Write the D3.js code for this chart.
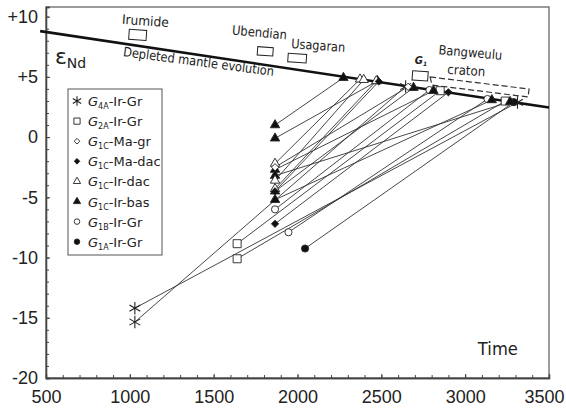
<!DOCTYPE html>
<html>
<head>
<meta charset="utf-8">
<script src="https://cdn.jsdelivr.net/npm/d3@7"></script>
<style>
body { margin: 0; background: #fff; }
svg text { font-family: "Liberation Sans", Arial, sans-serif; fill: #222; }
svg text.note { font-family: "DejaVu Sans", sans-serif; }
</style>
</head>
<body>
<svg id="chart" width="566" height="410"></svg>
<script>
// groups (legend order)
var groupSub = ["4A", "2A", "1C", "1C", "1C", "1C", "1B", "1A"];
var groupRest = ["-Ir-Gr", "-Ir-Gr", "-Ma-gr", "-Ma-dac", "-Ir-dac", "-Ir-bas", "-Ir-Gr", "-Ir-Gr"];

// samples: crystallisation point -> model age on the depleted mantle curve
var sampleGroup = [0, 0, 1, 1, 6, 6, 7, 5, 5, 5, 5, 5, 5, 4, 4, 4, 3, 3, 2];
var crystAge = [1030, 1030, 1640, 1640, 1866, 1946, 2045, 1866, 1866, 1866, 1866, 1866, 1866, 1866, 1866, 1866, 1866, 1866, 1866];
var crystEps = [-14.2, -15.35, -8.85, -10.1, -6.0, -7.9, -9.25, 1.0, -0.1, -5.2, -2.7, -4.5, -3.2, -2.2, -3.6, -4.3, -4.5, -7.2, -2.5];
var tdmAge = [3312, 2645, 2851, 3239, 2787, 3133, 3290, 2274, 2477, 3159, 2811, 2692, 3268, 2373, 2395, 2470, 2485, 2900, 2660];
var tdmEps = [2.88, 4.2, 3.85, 2.99, 3.91, 3.16, 2.9, 4.93, 4.66, 3.08, 3.85, 4.1, 2.93, 4.8, 4.76, 4.66, 4.62, 3.72, 4.18];

// depleted mantle evolution line
var dmAge = [465, 3500];
var dmEps = [8.8, 2.45];

// terrane boxes
var boxName = ["Irumide", "Ubendian", "Usagaran", "G"];
var boxAge0 = [997, 1763, 1945, 2687];
var boxAge1 = [1101, 1856, 2055, 2780];
var boxEps0 = [8.95, 7.51, 6.96, 5.51];
var boxEps1 = [8.12, 6.82, 6.26, 4.74];

// Bangweulu craton range (dashed)
var cratonAge = [2791, 3381, 3375, 2802];
var cratonEps = [4.99, 3.99, 3.33, 4.32];

var xTicks = [500, 1000, 1500, 2000, 2500, 3000, 3500];
var yTicks = [-20, -15, -10, -5, 0, 5, 10];
var yTickLabels = ["-20", "-15", "-10", "-5", "0", "+5", "+10"];

var svg = d3.select("#chart");

var x = d3.scaleLinear().domain([500, 3500]).range([46, 549]);
var y = d3.scaleLinear().domain([-20, 10.8]).range([378, 7]);

var symTypes = [d3.symbolAsterisk, d3.symbolSquare, d3.symbolDiamond2, d3.symbolDiamond2,
                d3.symbolTriangle, d3.symbolTriangle, d3.symbolCircle, d3.symbolCircle];
var symFilled = [false, false, false, true, false, true, false, true];
var symSize = [110, 64, 34, 34, 38, 38, 40, 40];

function drawSymbol(sel, g, scale) {
  sel.attr("d", d3.symbol().type(symTypes[g]).size(symSize[g] * scale)())
    .style("fill", g == 0 ? "none" : (symFilled[g] ? "#111" : "#fff"))
    .style("stroke", "#222")
    .style("stroke-width", g == 0 ? 1.1 : 0.9);
}

// frame
svg.append("rect")
  .attr("x", x(500)).attr("y", y(10.8))
  .attr("width", x(3500) - x(500)).attr("height", y(-20) - y(10.8))
  .style("fill", "none").style("stroke", "#666").style("stroke-width", 1.3);

// axes
var xMinor = svg.append("g").attr("transform", "translate(0," + y(-20) + ")")
  .call(d3.axisBottom(x).tickValues(d3.range(500, 3501, 100)).tickSize(-3).tickFormat(""));
var xAxis = svg.append("g").attr("transform", "translate(0," + y(-20) + ")")
  .call(d3.axisBottom(x).tickValues(xTicks).tickSize(-4).tickPadding(12).tickFormat(d3.format("d")));
var yMinor = svg.append("g").attr("transform", "translate(" + x(500) + ",0)")
  .call(d3.axisLeft(y).tickValues(d3.range(-20, 11, 1)).tickSize(-3).tickFormat(""));
var yAxis = svg.append("g").attr("transform", "translate(" + x(500) + ",0)")
  .call(d3.axisLeft(y).tickValues(yTicks).tickSize(-4).tickPadding(8)
    .tickFormat(function(d, i) { return yTickLabels[i]; }));

[xMinor, xAxis, yMinor, yAxis].forEach(function(a) {
  a.select(".domain").attr("stroke", "#444").attr("stroke-width", 1.3);
  a.selectAll(".tick line").attr("stroke", "#444");
  a.selectAll(".tick text").style("font-size", "18px").attr("fill", "#222")
    .style("font-family", "'Liberation Sans', Arial, sans-serif");
});
// keep the last label inside the page
xAxis.selectAll(".tick text").filter(function(d) { return d == 3500; }).attr("dx", -5);

// tie lines
var idx = d3.range(crystAge.length);
svg.append("g").selectAll("line").data(idx).enter().append("line")
  .attr("x1", function(i) { return x(crystAge[i]); })
  .attr("y1", function(i) { return y(crystEps[i]); })
  .attr("x2", function(i) { return x(tdmAge[i]); })
  .attr("y2", function(i) { return y(tdmEps[i]); })
  .style("stroke", "#333").style("stroke-width", 0.9);

// depleted mantle line
svg.append("path")
  .datum(d3.range(dmAge.length))
  .attr("d", d3.line().x(function(i) { return x(dmAge[i]); }).y(function(i) { return y(dmEps[i]); }))
  .style("fill", "none").style("stroke", "#111").style("stroke-width", 2.6);

// terrane boxes + craton outline
svg.append("g").selectAll("rect").data(d3.range(boxName.length)).enter().append("rect")
  .attr("x", function(i) { return x(boxAge0[i]); })
  .attr("y", function(i) { return y(boxEps0[i]); })
  .attr("width", function(i) { return x(boxAge1[i]) - x(boxAge0[i]); })
  .attr("height", function(i) { return y(boxEps1[i]) - y(boxEps0[i]); })
  .attr("transform", function(i) {
    return "rotate(4," + x(boxAge0[i]) + "," + y(boxEps0[i]) + ")";
  })
  .style("fill", "#fff").style("stroke", "#222").style("stroke-width", 1);

svg.append("path")
  .datum(d3.range(cratonAge.length))
  .attr("d", d3.line().x(function(i) { return x(cratonAge[i]); }).y(function(i) { return y(cratonEps[i]); }).curve(d3.curveLinearClosed))
  .style("fill", "none").style("stroke", "#333").style("stroke-width", 1.2)
  .style("stroke-dasharray", "6,3");

// markers: model ages then crystallisation points
svg.append("g").selectAll("path").data(idx).enter().append("path")
  .attr("transform", function(i) { return "translate(" + x(tdmAge[i]) + "," + y(tdmEps[i]) + ")"; })
  .each(function(i) { drawSymbol(d3.select(this), sampleGroup[i], 1); });
svg.append("g").selectAll("path").data(idx).enter().append("path")
  .attr("transform", function(i) { return "translate(" + x(crystAge[i]) + "," + y(crystEps[i]) + ")"; })
  .each(function(i) { drawSymbol(d3.select(this), sampleGroup[i], 1); });

// annotations
function note(txt, age, eps, size, rot, len) {
  var t = svg.append("text").attr("class", "note")
    .attr("x", x(age)).attr("y", y(eps))
    .attr("text-anchor", "middle")
    .style("font-size", size + "px")
    .attr("transform", "rotate(" + rot + "," + x(age) + "," + y(eps) + ")")
    .text(txt);
  if (len) t.attr("textLength", len).attr("lengthAdjust", "spacingAndGlyphs");
  return t;
}
note("Irumide", 1091, 9.27, 13, 4, 47);
note("Ubendian", 1771, 8.31, 13, 5, 55);
note("Usagaran", 2122, 7.23, 13, 4, 54);
note("Depleted mantle evolution", 1407, 5.9, 13, 7.5, 152);
note("Bangweulu", 3029, 6.65, 13, 5, 64);
note("craton", 3005, 5.15, 13, 4, 38);
note("Time", 3195, -18.1, 17, 0, 40);

var gl = svg.append("text").attr("class", "note")
  .attr("x", x(2700)).attr("y", y(6.05))
  .style("font-size", "10px").style("font-weight", "bold").style("font-style", "italic");
gl.append("tspan").text("G");
gl.append("tspan").attr("dy", 2).style("font-size", "6px").text("1");

var en = svg.append("text").attr("class", "note")
  .attr("x", x(553)).attr("y", y(6.1));
en.append("tspan").style("font-size", "22px").text("\u03b5");
en.append("tspan").attr("dy", 4).style("font-size", "14px").text("Nd");

// legend
var legend = svg.append("g");
legend.append("rect")
  .attr("x", 68).attr("y", 89).attr("width", 94).attr("height", 166)
  .style("fill", "#fff").style("stroke", "#555").style("stroke-width", 1);
var row = legend.selectAll(".row").data(d3.range(groupSub.length)).enter().append("g")
  .attr("class", "row")
  .attr("transform", function(i) { return "translate(77," + (101 + i * 20.1) + ")"; });
row.append("path").each(function(i) { drawSymbol(d3.select(this), i, 0.6); });
var lt = row.append("text").attr("class", "note")
  .attr("x", 11).attr("y", 5)
  .style("font-size", "13px");
lt.append("tspan").style("font-style", "italic").text("G");
lt.append("tspan").attr("dy", 3).style("font-size", "8px").text(function(i) { return groupSub[i]; });
lt.append("tspan").attr("dy", -3).text(function(i) { return groupRest[i]; });
</script>
</body>
</html>
